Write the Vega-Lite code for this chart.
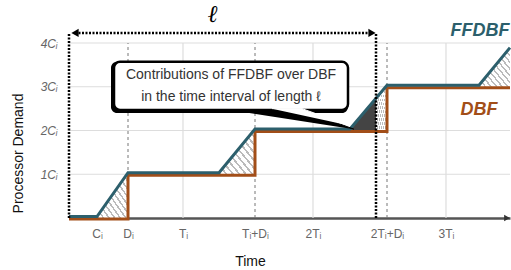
{
  "$schema": "https://vega.github.io/schema/vega-lite/v6.json",
  "width": 441,
  "height": 175,
  "autosize": {"type": "none"},
  "padding": {"left": 69, "top": 43, "right": 1, "bottom": 52},
  "config": {"view": {"stroke": null}, "font": "Liberation Sans"},
  "datasets": {
    "dbf": [
      {"i": 0, "t": 0, "d": 0}, {"i": 1, "t": 59, "d": 0}, {"i": 2, "t": 59, "d": 1},
      {"i": 3, "t": 186, "d": 1}, {"i": 4, "t": 186, "d": 2}, {"i": 5, "t": 318, "d": 2},
      {"i": 6, "t": 318, "d": 3}, {"i": 7, "t": 441, "d": 3}
    ],
    "ffdbf": [
      {"i": 0, "t": 0, "d": 0}, {"i": 1, "t": 28, "d": 0}, {"i": 2, "t": 59, "d": 1},
      {"i": 3, "t": 150, "d": 1}, {"i": 4, "t": 186, "d": 2}, {"i": 5, "t": 281, "d": 2},
      {"i": 6, "t": 318, "d": 3}, {"i": 7, "t": 410, "d": 3}, {"i": 8, "t": 441, "d": 3.86}
    ],
    "hatch": [
      {"g": "a", "t": 28, "top": 0, "bot": 0}, {"g": "a", "t": 59, "top": 1, "bot": 0},
      {"g": "b", "t": 150, "top": 1, "bot": 1}, {"g": "b", "t": 186, "top": 2, "bot": 1},
      {"g": "c", "t": 307, "top": 2.75, "bot": 2}, {"g": "c", "t": 318, "top": 3, "bot": 2},
      {"g": "d", "t": 410, "top": 3, "bot": 3}, {"g": "d", "t": 441, "top": 3.86, "bot": 3}
    ],
    "dark": [
      {"t": 281, "top": 2, "bot": 2}, {"t": 307, "top": 2.75, "bot": 2}
    ],
    "vgrid": [
      {"t": 114, "k": "solid"}, {"t": 244, "k": "solid"}, {"t": 377, "k": "solid"},
      {"t": 59, "k": "dash"}, {"t": 186, "k": "dash"}, {"t": 318, "k": "dash"}
    ],
    "hgrid": [{"d": 1}, {"d": 2}, {"d": 3}, {"d": 4}],
    "box": [{"x1": 45, "x2": 279, "y1": 2.47, "y2": 3.57}],
    "tailOuter": [
      {"i": 0, "t": 161, "d": 2.47}, {"i": 1, "t": 233, "d": 2.47}, {"i": 2, "t": 285, "d": 2.03}
    ],
    "tailInner": [
      {"i": 0, "t": 203, "d": 2.5}, {"i": 1, "t": 233, "d": 2.5}, {"i": 2, "t": 279, "d": 2.12}
    ],
    "boxText": [
      {"t": 162, "d": 3.27, "txt": "Contributions of FFDBF over DBF"},
      {"t": 162, "d": 2.77, "txt": "in the time interval of length ℓ"}
    ],
    "ellRules": [
      {"x1": 0, "y1": 0, "x2": 0, "y2": 4.23},
      {"x1": 307, "y1": 0, "x2": 307, "y2": 4.23},
      {"x1": 6, "y1": 4.23, "x2": 302, "y2": 4.23}
    ],
    "arrows": [
      {"t": 6, "d": 4.23, "s": "triangle-left", "c": "black"},
      {"t": 303, "d": 4.23, "s": "triangle-right", "c": "black"}
    ],
    "labels": [
      {"t": 411, "d": 4.27, "txt": "FFDBF", "c": "#2C5F6C"},
      {"t": 410, "d": 2.47, "txt": "DBF", "c": "#A24E18"}
    ]
  },
  "layer": [
    {
      "data": {"name": "hgrid"},
      "mark": {"type": "rule", "color": "#dddddd", "strokeWidth": 1.2},
      "encoding": {
        "y": {"field": "d", "type": "quantitative", "scale": {"domain": [0, 4], "nice": false, "zero": false},
          "axis": {"values": [1, 2, 3, 4], "labelExpr": "datum.value + 'Cᵢ'", "grid": false, "domain": false, "ticks": false,
            "labelFontStyle": "italic", "labelColor": "#666", "labelFontSize": 12, "labelPadding": 12,
            "title": "Processor Demand", "titleFontSize": 14, "titleFontWeight": "normal", "titleColor": "#111",
            "titleFont": "Liberation Sans", "titleAngle": -90, "titleX": -51, "titleY": 110, "titleBaseline": "middle", "titleAlign": "center"}},
        "x": {"datum": 0, "type": "quantitative", "scale": {"domain": [0, 441], "nice": false, "zero": false},
          "axis": {"values": [28, 59, 114, 186, 244, 318, 377],
            "labelExpr": "{'28':'Cᵢ','59':'Dᵢ','114':'Tᵢ','186':'Tᵢ+Dᵢ','244':'2Tᵢ','318':'2Tᵢ+Dᵢ','377':'3Tᵢ'}[datum.value + '']",
            "grid": false, "ticks": false, "domainColor": "#555", "domainWidth": 2.5,
            "labelColor": "#666", "labelFontSize": 12, "labelFont": "Liberation Sans", "labelPadding": 10,
            "title": "Time", "titleFontSize": 14, "titleFontWeight": "normal", "titleColor": "#111", "titleFont": "Liberation Sans",
            "titleX": 181, "titleY": 43, "titleBaseline": "middle", "titleAnchor": "middle", "titleAlign": "center"}},
        "x2": {"datum": 441}
      }
    },
    {
      "data": {"name": "vgrid"},
      "transform": [{"filter": "datum.k == 'solid'"}],
      "mark": {"type": "rule", "color": "#dddddd", "strokeWidth": 1.2},
      "encoding": {"x": {"field": "t", "type": "quantitative"}, "y": {"datum": 0}, "y2": {"datum": 4}}
    },
    {
      "data": {"name": "vgrid"},
      "transform": [{"filter": "datum.k == 'dash'"}],
      "mark": {"type": "rule", "color": "#777777", "strokeWidth": 1, "strokeDash": [3, 3]},
      "encoding": {"x": {"field": "t", "type": "quantitative"}, "y": {"datum": 0}, "y2": {"datum": 4}}
    },
    {
      "data": {"name": "hatch"},
      "mark": {"type": "area", "fill": {"gradient": "linear", "x1": 0, "y1": 1, "x2": 1, "y2": 0, "stops": [
        {"offset": 0, "color": "#bbbbbb"}, {"offset": 0.03, "color": "#bbbbbb"}, {"offset": 0.03, "color": "#ffffff"}, {"offset": 0.09, "color": "#ffffff"},
        {"offset": 0.09, "color": "#bbbbbb"}, {"offset": 0.12, "color": "#bbbbbb"}, {"offset": 0.12, "color": "#ffffff"}, {"offset": 0.18, "color": "#ffffff"},
        {"offset": 0.18, "color": "#bbbbbb"}, {"offset": 0.21, "color": "#bbbbbb"}, {"offset": 0.21, "color": "#ffffff"}, {"offset": 0.27, "color": "#ffffff"},
        {"offset": 0.27, "color": "#bbbbbb"}, {"offset": 0.30, "color": "#bbbbbb"}, {"offset": 0.30, "color": "#ffffff"}, {"offset": 0.36, "color": "#ffffff"},
        {"offset": 0.36, "color": "#bbbbbb"}, {"offset": 0.39, "color": "#bbbbbb"}, {"offset": 0.39, "color": "#ffffff"}, {"offset": 0.45, "color": "#ffffff"},
        {"offset": 0.45, "color": "#bbbbbb"}, {"offset": 0.48, "color": "#bbbbbb"}, {"offset": 0.48, "color": "#ffffff"}, {"offset": 0.54, "color": "#ffffff"},
        {"offset": 0.54, "color": "#bbbbbb"}, {"offset": 0.57, "color": "#bbbbbb"}, {"offset": 0.57, "color": "#ffffff"}, {"offset": 0.63, "color": "#ffffff"},
        {"offset": 0.63, "color": "#bbbbbb"}, {"offset": 0.66, "color": "#bbbbbb"}, {"offset": 0.66, "color": "#ffffff"}, {"offset": 0.72, "color": "#ffffff"},
        {"offset": 0.72, "color": "#bbbbbb"}, {"offset": 0.75, "color": "#bbbbbb"}, {"offset": 0.75, "color": "#ffffff"}, {"offset": 0.81, "color": "#ffffff"},
        {"offset": 0.81, "color": "#bbbbbb"}, {"offset": 0.84, "color": "#bbbbbb"}, {"offset": 0.84, "color": "#ffffff"}, {"offset": 0.90, "color": "#ffffff"},
        {"offset": 0.90, "color": "#bbbbbb"}, {"offset": 0.93, "color": "#bbbbbb"}, {"offset": 0.93, "color": "#ffffff"}, {"offset": 1, "color": "#ffffff"}
      ]}},
      "encoding": {
        "x": {"field": "t", "type": "quantitative"},
        "y": {"field": "top", "type": "quantitative"},
        "y2": {"field": "bot"},
        "detail": {"field": "g"}
      }
    },
    {
      "data": {"name": "dark"},
      "mark": {"type": "area", "color": "#444444"},
      "encoding": {
        "x": {"field": "t", "type": "quantitative"},
        "y": {"field": "top", "type": "quantitative"},
        "y2": {"field": "bot"}
      }
    },
    {
      "data": {"name": "dbf"},
      "mark": {"type": "line", "color": "#A24E18", "strokeWidth": 3, "yOffset": 1},
      "encoding": {
        "x": {"field": "t", "type": "quantitative"},
        "y": {"field": "d", "type": "quantitative"},
        "order": {"field": "i", "type": "quantitative"}
      }
    },
    {
      "data": {"name": "ffdbf"},
      "mark": {"type": "line", "color": "#2C5F6C", "strokeWidth": 3, "yOffset": -1.5},
      "encoding": {
        "x": {"field": "t", "type": "quantitative"},
        "y": {"field": "d", "type": "quantitative"},
        "order": {"field": "i", "type": "quantitative"}
      }
    },
    {
      "data": {"name": "ellRules"},
      "mark": {"type": "rule", "color": "black", "strokeWidth": 2.5, "strokeDash": [2, 1.5]},
      "encoding": {
        "x": {"field": "x1", "type": "quantitative"}, "x2": {"field": "x2"},
        "y": {"field": "y1", "type": "quantitative"}, "y2": {"field": "y2"}
      }
    },
    {
      "data": {"name": "arrows"},
      "mark": {"type": "point", "filled": true, "size": 70, "opacity": 1},
      "encoding": {
        "x": {"field": "t", "type": "quantitative"},
        "y": {"field": "d", "type": "quantitative"},
        "shape": {"field": "s", "type": "nominal", "scale": null},
        "color": {"field": "c", "type": "nominal", "scale": null}
      }
    },
    {
      "data": {"values": [{"t": 438, "d": 0}]},
      "mark": {"type": "point", "filled": true, "size": 45, "shape": "triangle-right", "color": "#333", "opacity": 1},
      "encoding": {"x": {"field": "t", "type": "quantitative"}, "y": {"field": "d", "type": "quantitative"}}
    },
    {
      "data": {"name": "box"},
      "mark": {"type": "rect", "color": "black", "cornerRadius": 6, "xOffset": -3, "yOffset": 3},
      "encoding": {
        "x": {"field": "x1", "type": "quantitative"}, "x2": {"field": "x2"},
        "y": {"field": "y1", "type": "quantitative"}, "y2": {"field": "y2"}
      }
    },
    {
      "data": {"name": "tailOuter"},
      "mark": {"type": "line", "fill": "black", "stroke": "black", "strokeWidth": 1},
      "encoding": {
        "x": {"field": "t", "type": "quantitative"},
        "y": {"field": "d", "type": "quantitative"},
        "order": {"field": "i", "type": "quantitative"}
      }
    },
    {
      "data": {"name": "box"},
      "mark": {"type": "rect", "fill": "white", "stroke": "black", "strokeWidth": 2.5, "cornerRadius": 6},
      "encoding": {
        "x": {"field": "x1", "type": "quantitative"}, "x2": {"field": "x2"},
        "y": {"field": "y1", "type": "quantitative"}, "y2": {"field": "y2"}
      }
    },
    {
      "data": {"name": "tailInner"},
      "mark": {"type": "line", "fill": "white", "stroke": "white", "strokeWidth": 1},
      "encoding": {
        "x": {"field": "t", "type": "quantitative"},
        "y": {"field": "d", "type": "quantitative"},
        "order": {"field": "i", "type": "quantitative"}
      }
    },
    {
      "data": {"name": "boxText"},
      "mark": {"type": "text", "fontSize": 14, "color": "#333", "font": "Liberation Sans", "align": "center", "baseline": "middle"},
      "encoding": {
        "x": {"field": "t", "type": "quantitative"},
        "y": {"field": "d", "type": "quantitative"},
        "text": {"field": "txt"}
      }
    },
    {
      "data": {"name": "labels"},
      "mark": {"type": "text", "fontSize": 18, "fontWeight": "bold", "fontStyle": "italic", "align": "center", "baseline": "middle"},
      "encoding": {
        "x": {"field": "t", "type": "quantitative"},
        "y": {"field": "d", "type": "quantitative"},
        "text": {"field": "txt"},
        "color": {"field": "c", "type": "nominal", "scale": null}
      }
    },
    {
      "data": {"values": [{"t": 144, "d": 4.64, "txt": "ℓ"}]},
      "mark": {"type": "text", "fontSize": 24, "fontWeight": "bold", "fontStyle": "italic", "color": "black", "align": "center", "baseline": "middle", "font": "DejaVu Serif"},
      "encoding": {
        "x": {"field": "t", "type": "quantitative"},
        "y": {"field": "d", "type": "quantitative"},
        "text": {"field": "txt"}
      }
    }
  ]
}
